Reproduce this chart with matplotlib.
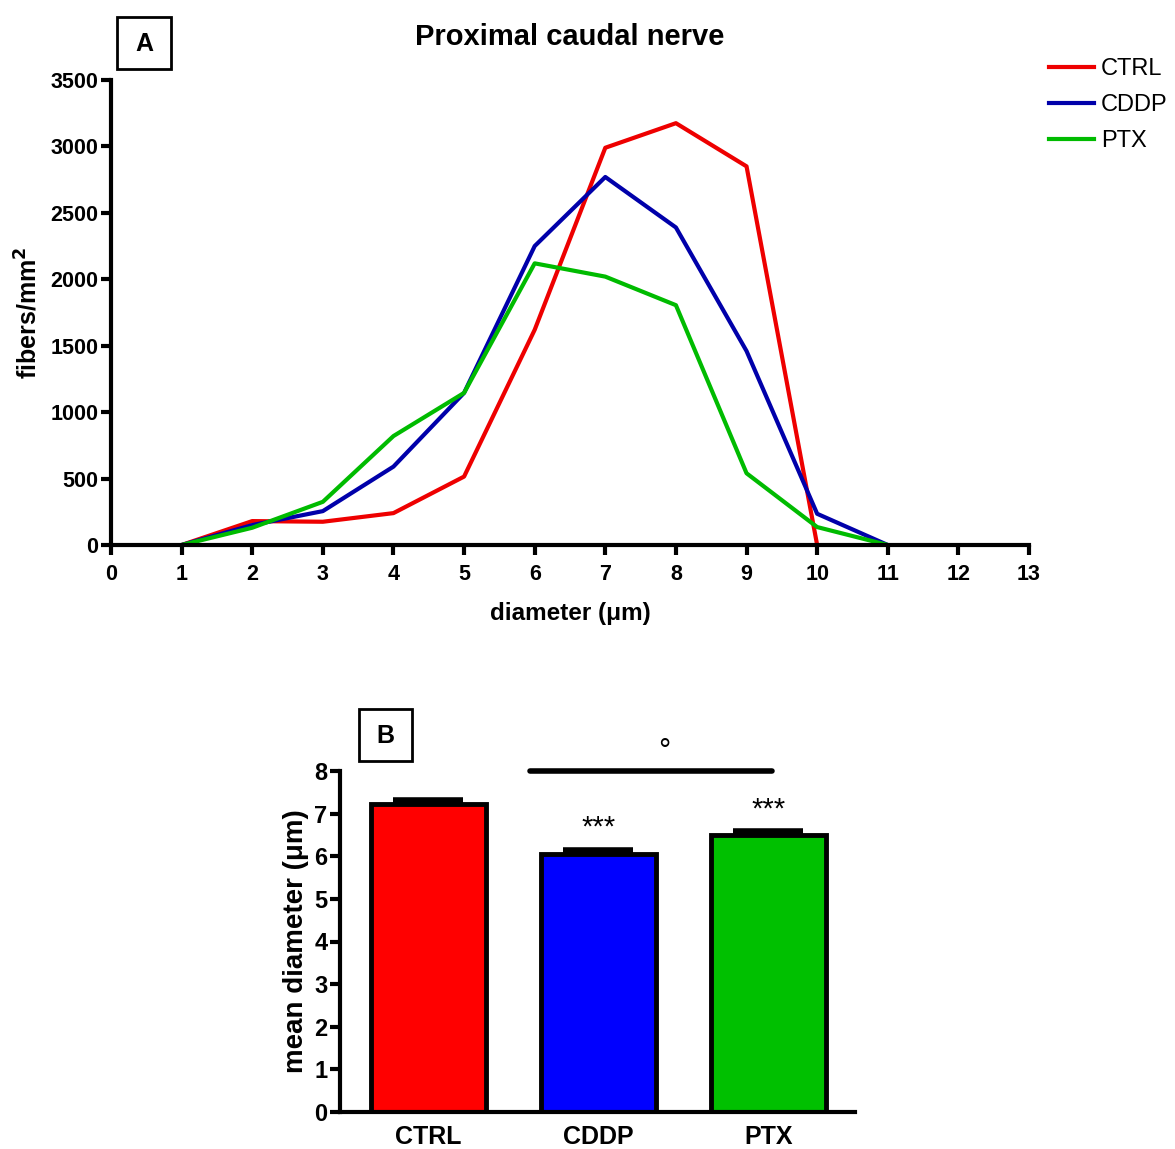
import matplotlib
matplotlib.use("Agg")
import matplotlib.pyplot as plt
from matplotlib.patches import Rectangle

plt.rcParams['font.family'] = ['Liberation Sans', 'DejaVu Sans']

diam = [1, 2, 3, 4, 5, 6, 7, 8, 9, 10, 11]
ctrl = [0, 180, 175, 240, 515, 1620, 2990, 3175, 2850, 0, None]
cddp = [0, 150, 255, 590, 1145, 2250, 2770, 2390, 1460, 235, 0]
ptx = [0, 130, 325, 820, 1145, 2120, 2020, 1805, 540, 135, 0]
xticks_top = list(range(0, 14))
yticks_top = [0, 500, 1000, 1500, 2000, 2500, 3000, 3500]

groups = ["CTRL", "CDDP", "PTX"]
means = [7.23, 6.06, 6.50]
sems = [0.09, 0.09, 0.10]
colors = ["#ff0000", "#0000ff", "#00c000"]
line_colors = ["#ee0000", "#0000aa", "#00bb00"]

fig = plt.figure(figsize=(11.75, 11.49), dpi=100)

# Panel A
ax = fig.add_axes([111/1175, 1-545/1149, (1029-111)/1175, (545-80)/1149])
xs_c = [d for d, v in zip(diam, ctrl) if v is not None]
ys_c = [v for v in ctrl if v is not None]
ax.plot(xs_c, ys_c, color=line_colors[0], lw=3, label="CTRL")
ax.plot(diam, cddp, color=line_colors[1], lw=3, label="CDDP")
ax.plot(diam, ptx, color=line_colors[2], lw=3, label="PTX")
ax.set_xlim(0, 13)
ax.set_ylim(0, 3500)
ax.set_xticks(xticks_top)
ax.set_yticks(yticks_top)
for s in ["top", "right"]:
    ax.spines[s].set_visible(False)
for s in ["left", "bottom"]:
    ax.spines[s].set_linewidth(3)
ax.tick_params(width=3, length=7, labelsize=15.5)
ax.tick_params(axis="x", pad=7)
ax.tick_params(axis="y", pad=2)
for lab in ax.get_xticklabels() + ax.get_yticklabels():
    lab.set_fontweight("bold")
ax.set_xlabel("diameter (\u03bcm)", fontsize=17.5, fontweight="bold", labelpad=12)
ax.set_ylabel("fibers/mm$^\\mathbf{2}$", fontsize=18, fontweight="bold", labelpad=6)
ax.set_title("Proximal caudal nerve", fontsize=21, fontweight="bold", pad=25)
leg = ax.legend(loc="upper left", bbox_to_anchor=(1049/1175, 1-58/1149),
                bbox_transform=fig.transFigure, frameon=False, borderpad=0, borderaxespad=0,
                fontsize=17, handlelength=1.9, handletextpad=0.3, labelspacing=0.6)
for h in leg.get_lines():
    h.set_linewidth(3)

fig.patches.append(Rectangle((117/1175, 1-69/1149), 54/1175, 52/1149,
                             transform=fig.transFigure, fill=False, lw=2, ec="black"))
fig.text(144/1175, 1-44/1149, "A", ha="center", va="center", fontsize=18, fontweight="bold")

# Panel B
bx = fig.add_axes([340/1175, 1-1112/1149, (855-340)/1175, (1112-771)/1149])
pos = [0, 1, 2]
bx.bar(pos, means, width=0.68, color=colors, edgecolor="black", linewidth=3.5, zorder=2)
bx.errorbar(pos, means, yerr=[[0, 0, 0], sems], fmt="none", ecolor="black",
            elinewidth=3, capsize=25, capthick=4, zorder=1)
bx.set_xlim(-0.52, 2.51)
bx.set_ylim(0, 8)
bx.set_yticks(range(0, 9))
bx.set_xticks(pos)
bx.set_xticklabels(groups)
for s in ["top", "right"]:
    bx.spines[s].set_visible(False)
for s in ["left", "bottom"]:
    bx.spines[s].set_linewidth(3)
bx.tick_params(axis="y", width=3, length=7, labelsize=17, pad=2)
bx.tick_params(axis="x", length=0, labelsize=18, pad=9)
for lab in bx.get_xticklabels() + bx.get_yticklabels():
    lab.set_fontweight("bold")
bx.set_ylabel("mean diameter (\u03bcm)", fontsize=20, fontweight="bold", labelpad=4)
bx.plot([0.6, 2.02], [8.0, 8.0], color="black", lw=4, clip_on=False, solid_capstyle="round")
bx.text(1.39, 8.45, "\u00b0", ha="center", va="center", fontsize=22)
bx.text(1.0, 6.68, "***", ha="center", va="center", fontsize=21)
bx.text(2.0, 7.1, "***", ha="center", va="center", fontsize=21)

fig.patches.append(Rectangle((359/1175, 1-761/1149), 53/1175, 52/1149,
                             transform=fig.transFigure, fill=False, lw=2, ec="black"))
fig.text(385/1175, 1-736/1149, "B", ha="center", va="center", fontsize=18, fontweight="bold")

fig.savefig("out.png", dpi=100)
